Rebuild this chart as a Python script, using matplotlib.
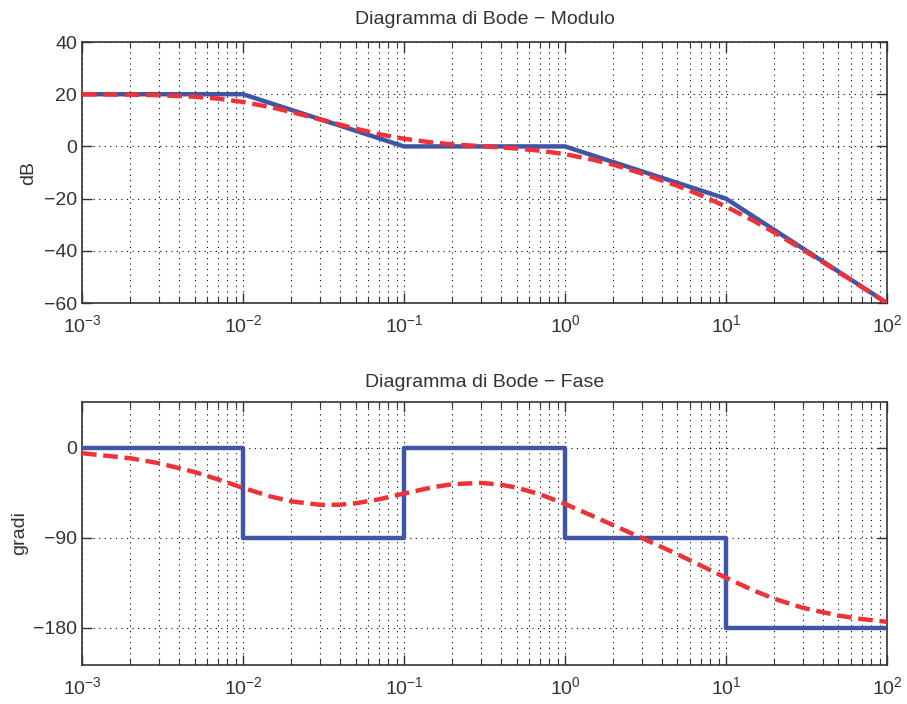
import matplotlib
matplotlib.use("Agg")
import matplotlib.pyplot as plt
from matplotlib.ticker import LogLocator, NullFormatter, FixedLocator

plt.rcParams['font.family'] = ['Liberation Sans', 'DejaVu Sans']

# Asymptotic (straight-line) magnitude, breakpoints
mag_asym_w = [1e-3, 1e-2, 1e-1, 1e0, 1e1, 1e2]
mag_asym_db = [20, 20, 0, 0, -20, -60]

w_real = [0.001, 0.002, 0.003, 0.005, 0.007, 0.01, 0.015, 0.02, 0.03, 0.05, 0.07,
          0.1, 0.15, 0.2, 0.3, 0.5, 0.7, 1, 1.5, 2, 3, 5, 7, 10, 15, 20, 30, 50, 70, 100]
mag_real_db = [19.96, 19.83, 19.63, 19.04, 18.29, 17.03, 14.98, 13.18, 10.37, 6.81, 4.71,
               2.93, 1.49, 0.80, 0.09, -0.80, -1.63, -2.97, -5.12, -7.01, -10.37, -15.12,
               -18.73, -23.05, -28.65, -33.01, -39.54, -48.13, -53.9, -60.04]

# Asymptotic phase (steps)
ph_asym_w = [1e-3, 1e-2, 1e-2, 1e-1, 1e-1, 1e0, 1e0, 1e1, 1e1, 1e2]
ph_asym_deg = [0, 0, -90, -90, 0, 0, -90, -90, -180, -180]

w_ph = [0.001, 0.002, 0.003, 0.005, 0.007, 0.01, 0.015, 0.02, 0.03, 0.04, 0.05, 0.07,
        0.1, 0.15, 0.2, 0.3, 0.4, 0.5, 0.7, 1, 1.5, 2, 3, 5, 7, 10, 15, 20, 30, 50, 70, 100]
ph_real_deg = [-5.2, -10.3, -15.2, -24.0, -31.4, -39.9, -48.7, -53.4, -56.8, -56.7, -55.3, -51.3,
               -45.6, -39.3, -36.2, -34.9, -36.7, -39.6, -46.3, -55.9, -68.3, -77.3, -90.0,
               -106.3, -117.6, -129.8, -142.8, -150.8, -159.8, -167.6, -171.1, -173.8]

blue = '#3f55a6'
red = '#ee3338'

fig = plt.figure(figsize=(9.07, 7.04), dpi=100)
ax1 = fig.add_axes([0.0904, 0.5696, 0.8875, 0.3707])
ax2 = fig.add_axes([0.0904, 0.0554, 0.8875, 0.3736])

def style(ax):
    ax.set_xscale('log')
    ax.set_xlim(1e-3, 1e2)
    ax.xaxis.set_major_locator(LogLocator(base=10, numticks=10))
    ax.xaxis.set_minor_locator(LogLocator(base=10, subs=range(2, 10), numticks=20))
    ax.xaxis.set_minor_formatter(NullFormatter())
    ax.grid(True, which='major', axis='both', linestyle=(0, (1, 4)), color='black', linewidth=0.8)
    ax.grid(True, which='minor', axis='x', linestyle=(0, (1, 4)), color='black', linewidth=0.8)
    ax.tick_params(which='both', direction='in', top=True, right=True, labelsize=14,
                   colors='#333333', labelcolor='#333333')
    ax.tick_params(which='major', length=7, width=1)
    ax.tick_params(which='minor', length=4, width=0.8)
    ax.tick_params(axis='x', pad=8)
    for s in ax.spines.values():
        s.set_color('#333333')
        s.set_linewidth(1.2)

style(ax1)
ax1.plot(mag_asym_w, mag_asym_db, color=blue, linewidth=3.2, zorder=3)
ax1.plot(w_real, mag_real_db, color=red, linewidth=3.2, linestyle=(0, (3.3, 1.5)), zorder=4)
ax1.set_ylim(-60, 40)
ax1.yaxis.set_major_locator(FixedLocator([-60, -40, -20, 0, 20, 40]))
ax1.set_ylabel('dB', fontsize=14, color='#333333')
ax1.yaxis.set_label_coords(-0.056, 0.5)
ax1.set_title('Diagramma di Bode \u2212 Modulo', fontsize=14, color='#333333', pad=13)

style(ax2)
ax2.plot(ph_asym_w, ph_asym_deg, color=blue, linewidth=3.2, zorder=3)
ax2.plot(w_ph, ph_real_deg, color=red, linewidth=3.2, linestyle=(0, (3.3, 1.5)), zorder=4)
ax2.set_ylim(-217, 46)
ax2.yaxis.set_major_locator(FixedLocator([-180, -90, 0]))
ax2.set_ylabel('gradi', fontsize=14, color='#333333')
ax2.yaxis.set_label_coords(-0.067, 0.5)
ax2.set_title('Diagramma di Bode \u2212 Fase', fontsize=14, color='#333333', pad=11)

fig.savefig('out.png', dpi=100)
